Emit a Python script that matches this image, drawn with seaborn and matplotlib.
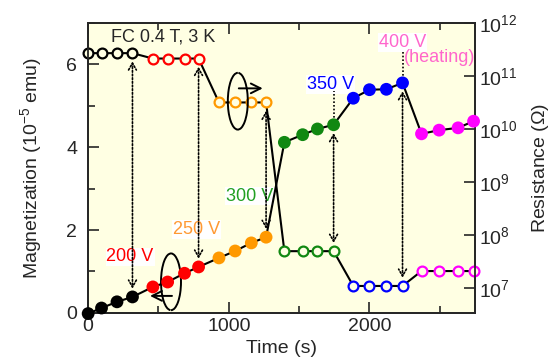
import numpy as np
import pandas as pd
import matplotlib
matplotlib.use("Agg")
import matplotlib.pyplot as plt
import seaborn as sns
from matplotlib.patches import Arc
from matplotlib.ticker import MultipleLocator, LogLocator, NullLocator

# data
steps = ["0 V", "200 V", "250 V", "300 V", "350 V", "400 V"]
step_colors = ["black", "#FF0000", "#FF9900", "#118811", "#0000FF", "#FF00FF"]

time_s = [
    [0, 95, 205, 315],
    [460, 565, 685, 785],
    [930, 1045, 1160, 1265],
    [1395, 1525, 1630, 1745],
    [1885, 2000, 2120, 2235],
    [2370, 2495, 2630, 2740],
]
magnetization = [
    [6.27, 6.27, 6.27, 6.27],
    [6.14, 6.14, 6.14, 6.14],
    [5.08, 5.08, 5.08, 5.08],
    [1.49, 1.49, 1.49, 1.49],
    [0.65, 0.65, 0.65, 0.65],
    [1.01, 1.01, 1.01, 1.01],
]
resistance = [
    [3.3e6, 4.2e6, 5.5e6, 6.8e6],
    [1.05e7, 1.3e7, 1.9e7, 2.5e7],
    [3.7e7, 5.0e7, 7.1e7, 9.1e7],
    [5.6e9, 7.8e9, 1.0e10, 1.2e10],
    [3.8e10, 5.5e10, 5.6e10, 7.4e10],
    [8.1e9, 9.5e9, 1.05e10, 1.4e10],
]

rows = []
for s, t, m, r in zip(steps, time_s, magnetization, resistance):
    for a, b, c in zip(t, m, r):
        rows.append({"step": s, "time": a, "M": b, "R": c})
df = pd.DataFrame(rows)

sns.set_style("ticks")
plt.rcParams["font.family"] = ["Liberation Sans", "DejaVu Sans"]
plt.rcParams["mathtext.default"] = "regular"
plt.rcParams["font.size"] = 14

bg = "#FFFFE3"
fig = plt.figure(figsize=(5.51, 3.58), dpi=100)
ax1 = fig.add_axes([0.160, 0.126, 0.702, 0.810])
ax2 = ax1.twinx()
ax1.set_facecolor(bg)
ax2.patch.set_visible(False)
ax1.set_zorder(1)
ax2.set_zorder(2)

# connecting lines
sns.lineplot(data=df, x="time", y="M", ax=ax1, color="black", lw=1.5,
             sort=False, estimator=None, zorder=2)
sns.lineplot(data=df, x="time", y="R", ax=ax2, color="black", lw=1.5,
             sort=False, estimator=None, zorder=2)

# open circles = magnetization, filled circles = resistance
for s, c in zip(steps, step_colors):
    d = df[df["step"] == s]
    sns.scatterplot(x=d["time"], y=d["M"], ax=ax1, s=50, facecolor=bg,
                    edgecolor=c, linewidth=1.6, zorder=3, clip_on=False)
    sns.scatterplot(x=d["time"], y=d["R"], ax=ax2, s=85, color=c,
                    edgecolor="none", linewidth=0, zorder=3, clip_on=False)

ax1.set_xlim(0, 2750)
ax1.set_ylim(0, 7)
ax2.set_yscale("log")
ax2.set_ylim(3.4e6, 1e12)

ax1.xaxis.set_major_locator(MultipleLocator(1000))
ax1.xaxis.set_minor_locator(MultipleLocator(500))
ax1.yaxis.set_major_locator(MultipleLocator(2))
ax1.yaxis.set_minor_locator(MultipleLocator(1))
ax2.yaxis.set_major_locator(LogLocator(base=10, numticks=12))
ax2.yaxis.set_minor_locator(NullLocator())

ax1.tick_params(axis="both", which="both", direction="in", width=1.2,
                top=True, labelsize=14)
ax1.tick_params(axis="both", which="major", length=8)
ax1.tick_params(axis="both", which="minor", length=5)
ax1.tick_params(axis="y", which="major", pad=8)
ax1.tick_params(axis="x", which="major", pad=4)
ax2.tick_params(axis="y", which="both", direction="in", width=1.2, length=8,
                labelsize=14, pad=3)
for ax in (ax1, ax2):
    for sp in ax.spines.values():
        sp.set_linewidth(1.3)
        sp.set_visible(True)

ax1.set_xlabel("Time (s)", fontsize=14, labelpad=3)
ax1.set_ylabel("Magnetization (10$^{-5}$ emu)", fontsize=14, labelpad=16)
ax2.set_ylabel("Resistance ($\\Omega$)", fontsize=14, labelpad=9)

# dotted arrows linking the two quantities at each voltage step
arrow_kw = dict(arrowstyle="<->,head_length=0.35,head_width=0.2", ls=(0, (1, 1.2)),
                lw=1.2, color="black", shrinkA=6, shrinkB=6)
for i in range(5):
    t = time_s[i][-1]
    ax2.annotate("", xy=(t, resistance[i][-1]), xycoords=ax2.transData,
                 xytext=(t, magnetization[i][-1]), textcoords=ax1.transData,
                 arrowprops=arrow_kw, zorder=4)
# dotted leaders up to the 350 V and 400 V labels
ax2.plot([time_s[3][-1]] * 2, [resistance[3][-1], 5.2e10], ls=(0, (1, 1.2)),
         lw=1.2, color="black", zorder=2)
ax2.plot([time_s[4][-1]] * 2, [resistance[4][-1], 3.0e11], ls=(0, (1, 1.2)),
         lw=1.2, color="black", zorder=2)

# voltage labels
box = dict(boxstyle="square,pad=0.05", fc="white", ec="none")
labels = [("200 V", 298, 1.35, "#FF0000"), ("250 V", 773, 2.02, "#FF9933"),
          ("300 V", 1149, 2.82, "#22A022"), ("350 V", 1723, 5.52, "#0000FF"),
          ("400 V", 2234, 6.53, "#FF66CC")]
for txt, x, y, c in labels:
    ax1.text(x, y, txt, color=c, fontsize=13, ha="center", va="center",
             bbox=box, zorder=6)
ax1.text(2496, 6.17, "(heating)", color="#FF66CC", fontsize=13,
         ha="center", va="center", zorder=6)
ax1.text(535, 6.67, "FC 0.4 T, 3 K", fontsize=13, ha="center", va="center", zorder=6)

# axis indicator loops
ax1.add_patch(Arc((1064, 5.11), 142, 1.37, theta1=80, theta2=370, lw=1.4,
                  color="black", zorder=5))
ax1.annotate("", xy=(1241, 5.42), xytext=(1071, 5.42),
             arrowprops=dict(arrowstyle="->,head_length=0.5,head_width=0.25",
                             lw=1.4, color="black", shrinkA=0, shrinkB=0), zorder=5)
ax1.add_patch(Arc((589, 0.75), 142, 1.37, theta1=260, theta2=190, lw=1.4,
                  color="black", zorder=5))
ax1.annotate("", xy=(440, 0.41), xytext=(596, 0.41),
             arrowprops=dict(arrowstyle="->,head_length=0.5,head_width=0.25",
                             lw=1.4, color="black", shrinkA=0, shrinkB=0), zorder=5)

fig.savefig("out.png", dpi=100)
